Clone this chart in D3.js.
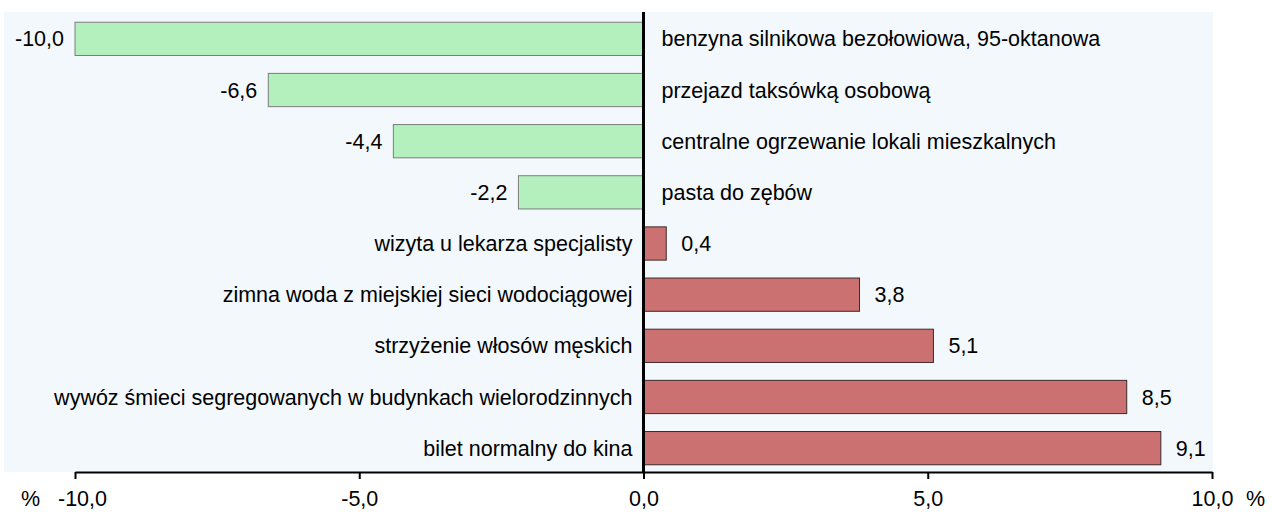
<!DOCTYPE html>
<html>
<head>
<meta charset="utf-8">
<script src="https://cdn.jsdelivr.net/npm/d3@7"></script>
<style>
  body { margin: 0; background: #fff; }
  svg { display: block; font-family: "Liberation Sans", Arial, sans-serif; }
</style>
</head>
<body>
<svg id="chart" width="1272" height="512"></svg>
<script>
// kategorie i zmiany cen (%)
var kategorie = [
  "benzyna silnikowa bezołowiowa, 95-oktanowa",
  "przejazd taksówką osobową",
  "centralne ogrzewanie lokali mieszkalnych",
  "pasta do zębów",
  "wizyta u lekarza specjalisty",
  "zimna woda z miejskiej sieci wodociągowej",
  "strzyżenie włosów męskich",
  "wywóz śmieci segregowanych w budynkach wielorodzinnych",
  "bilet normalny do kina"
];
var zmiany = [-10.0, -6.6, -4.4, -2.2, 0.4, 3.8, 5.1, 8.5, 9.1];
var ticki = [-10, -5, 0, 5, 10];

var dane = kategorie.map(function(k, i){ return {nazwa: k, wartosc: zmiany[i]}; });
var fmt = function(v){ return d3.format(".1f")(v).replace(".", ",").replace("−", "-"); };
var rozmiar = 21.5;

var svg = d3.select("#chart");

var x = d3.scaleLinear().domain([-10, 10]).range([75, 1212]);
var y = d3.scaleBand().domain(kategorie).range([12, 475]).paddingInner(0.35).paddingOuter(0.2);

// tlo wykresu
svg.append("rect")
  .attr("x", 4).attr("y", 12)
  .attr("width", 1209).attr("height", 460)
  .attr("fill", "#f3f8fc");

// slupki
svg.selectAll(".slupek")
  .data(dane)
  .enter()
  .append("rect")
  .attr("class", "slupek")
  .attr("x", function(d){ return x(Math.min(0, d.wartosc)); })
  .attr("y", function(d){ return y(d.nazwa); })
  .attr("width", function(d){ return Math.abs(x(d.wartosc) - x(0)); })
  .attr("height", y.bandwidth())
  .attr("fill", function(d){ return d.wartosc < 0 ? "#b4f0bd" : "#cc7171"; })
  .attr("stroke", function(d){ return d.wartosc < 0 ? "#7d7d7d" : "#3b2b2b"; })
  .attr("stroke-width", 1);

// etykiety wartosci
svg.selectAll(".wartosc")
  .data(dane)
  .enter()
  .append("text")
  .attr("x", function(d){ return d.wartosc < 0 ? x(d.wartosc) - 11 : x(d.wartosc) + 15; })
  .attr("y", function(d){ return y(d.nazwa) + y.bandwidth() / 2; })
  .attr("dy", "0.35em")
  .attr("text-anchor", function(d){ return d.wartosc < 0 ? "end" : "start"; })
  .attr("font-size", rozmiar)
  .attr("fill", "#000")
  .text(function(d){ return fmt(d.wartosc); });

// nazwy kategorii
svg.selectAll(".nazwa")
  .data(dane)
  .enter()
  .append("text")
  .attr("x", function(d){ return d.wartosc < 0 ? x(0) + 18 : x(0) - 11; })
  .attr("y", function(d){ return y(d.nazwa) + y.bandwidth() / 2; })
  .attr("dy", "0.35em")
  .attr("text-anchor", function(d){ return d.wartosc < 0 ? "start" : "end"; })
  .attr("font-size", rozmiar)
  .attr("fill", "#000")
  .text(function(d){ return d.nazwa; });

// linia zero
svg.append("line")
  .attr("x1", x(0)).attr("x2", x(0))
  .attr("y1", 12).attr("y2", 472)
  .attr("stroke", "#000")
  .attr("stroke-width", 3);

// os X
var os = svg.append("g")
  .attr("transform", "translate(0,472)")
  .call(d3.axisBottom(x).tickValues(ticki).tickFormat(fmt).tickSize(7).tickSizeOuter(0).tickPadding(12));
os.select(".domain").attr("stroke", "#000").attr("stroke-width", 2);
os.selectAll(".tick line").attr("stroke", "#000").attr("stroke-width", 2);
os.selectAll(".tick text")
  .attr("font-size", rozmiar)
  .attr("font-family", "Liberation Sans, Arial, sans-serif")
  .attr("fill", "#000");
// pierwsza etykieta przesunieta w prawo jak w oryginale
os.selectAll(".tick text").filter(function(d){ return d === ticki[0]; }).attr("x", 7);

svg.append("text").attr("x", 21).attr("y", 506).attr("font-size", rozmiar).text("%");
svg.append("text").attr("x", 1246).attr("y", 506).attr("font-size", rozmiar).text("%");
</script>
</body>
</html>
